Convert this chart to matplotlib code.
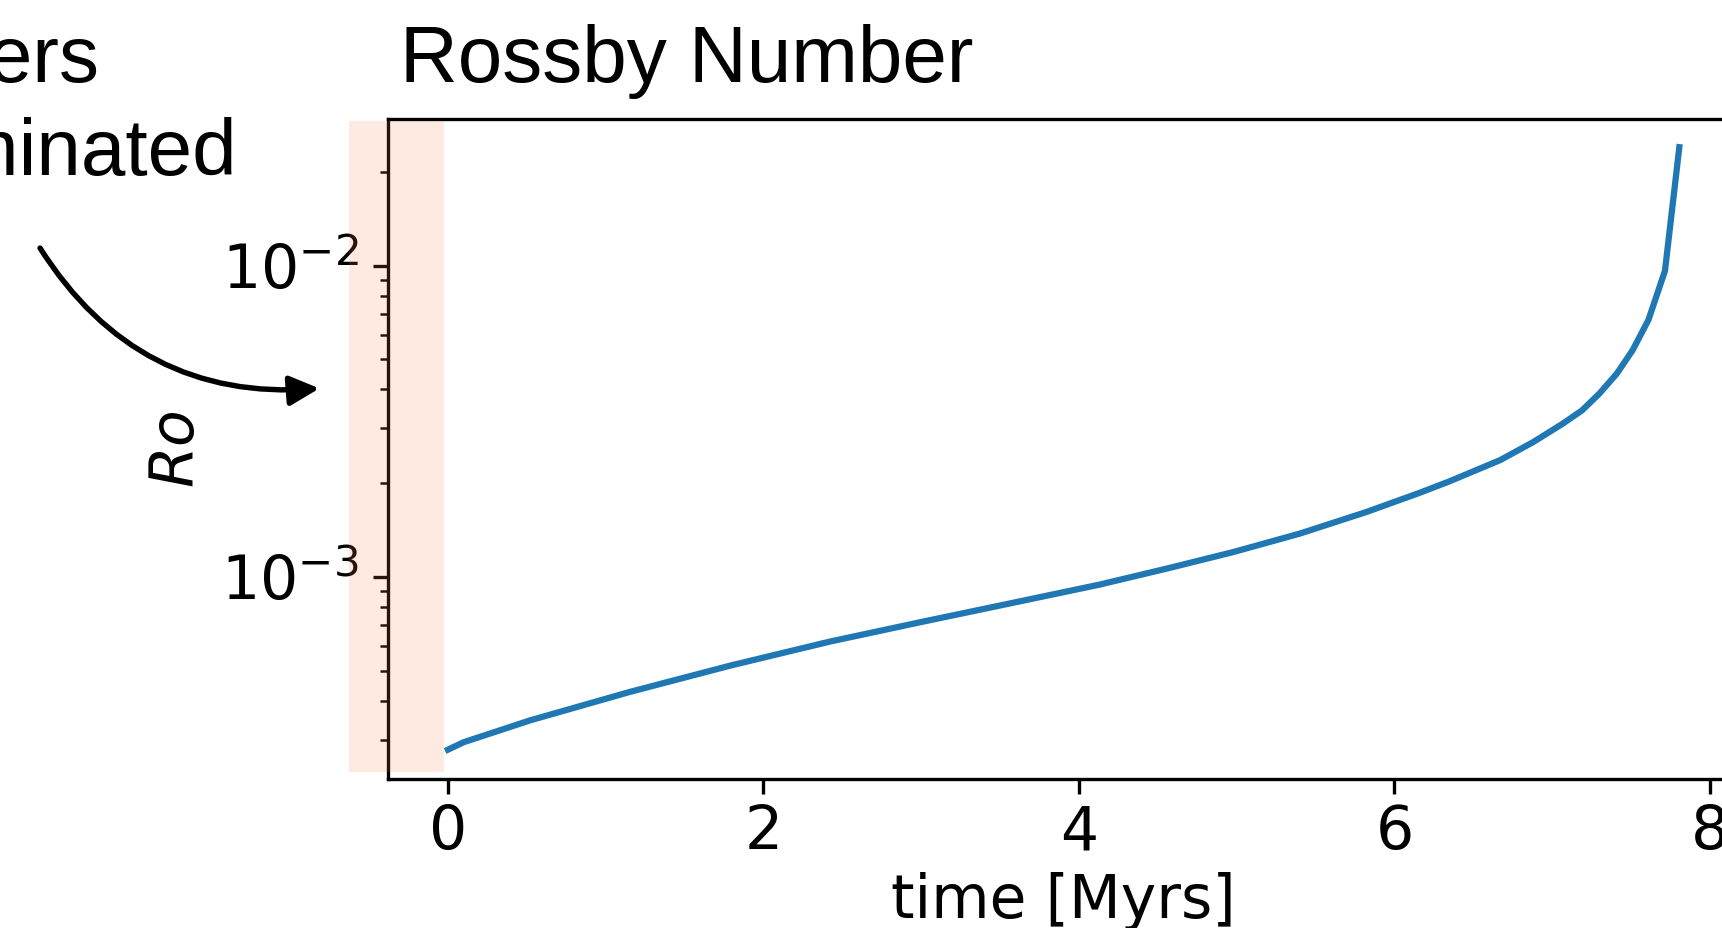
import matplotlib
matplotlib.use("Agg")
import matplotlib.pyplot as plt
from matplotlib.patches import Rectangle

# ---- data ----
time_myr = [0.0, 0.1, 0.52, 1.15, 1.79, 2.42, 3.0, 3.5, 4.13, 4.56, 4.98,
            5.40, 5.82, 6.16, 6.35, 6.67, 6.88, 7.07, 7.19, 7.30, 7.41,
            7.51, 7.61, 7.715, 7.806]
rossby = [2.786e-4, 2.944e-4, 3.459e-4, 4.266e-4, 5.188e-4, 6.194e-4,
          7.161e-4, 8.091e-4, 9.441e-4, 1.064e-3, 1.202e-3, 1.377e-3,
          1.614e-3, 1.862e-3, 2.028e-3, 2.371e-3, 2.710e-3, 3.112e-3,
          3.428e-3, 3.882e-3, 4.498e-3, 5.346e-3, 6.683e-3, 9.616e-3,
          2.399e-2]
xticks = [0, 2, 4, 6, 8]
shade_span = (-0.628, -0.028)

W, H, DPI = 1722, 928, 300
fig = plt.figure(figsize=(W / DPI, H / DPI), dpi=DPI)
ax = fig.add_axes([387.7 / W, (H - 778.6) / H, (1738 - 387.7) / W, (778.6 - 119.2) / H])

ax.plot(time_myr, rossby, color="#1f77b4", lw=1.5)
ax.set_yscale("log")
ax.set_xlim(-0.382, 8.178)
ax.set_ylim(10 ** -3.648, 10 ** -1.530)
ax.set_xticks(xticks)
ax.tick_params(labelsize=14.4)
ax.tick_params(axis="x", pad=2.45)
ax.set_xlabel("time [Myrs]", fontsize=14.4, labelpad=2.4)
ax.set_ylabel(r"$Ro$", fontsize=14.4, labelpad=3.3)

rect = Rectangle((shade_span[0], 0.0102), shade_span[1] - shade_span[0], 0.9865,
                 transform=ax.get_xaxis_transform(), facecolor="coral",
                 alpha=0.16, lw=0, clip_on=False, zorder=3)
ax.add_patch(rect)

ax.annotate("", xy=(-0.815, 4.03e-3), xytext=(-2.586, 1.138e-2),
            xycoords="data", textcoords="data", annotation_clip=False,
            arrowprops=dict(arrowstyle="-|>", connectionstyle="arc3,rad=0.3",
                            color="black", lw=1.3, shrinkA=0, shrinkB=0,
                            mutation_scale=15))

ax.text((400 - 387.7) / (1738 - 387.7), (778.6 - 81.7) / (778.6 - 119.2),
        "Rossby Number", transform=ax.transAxes, fontsize=19.2,
        family="Liberation Sans", ha="left", va="baseline")

# annotation label (partly outside the visible area, as in the reference)
fig.text(99.5 / W, (H - 81.7) / H, "Layers", fontsize=19.2,
         family="Liberation Sans", ha="right", va="baseline")
fig.text(237 / W, (H - 175) / H, "dominated", fontsize=19.2,
         family="Liberation Sans", ha="right", va="baseline")

fig.savefig("out.png", dpi=DPI)
